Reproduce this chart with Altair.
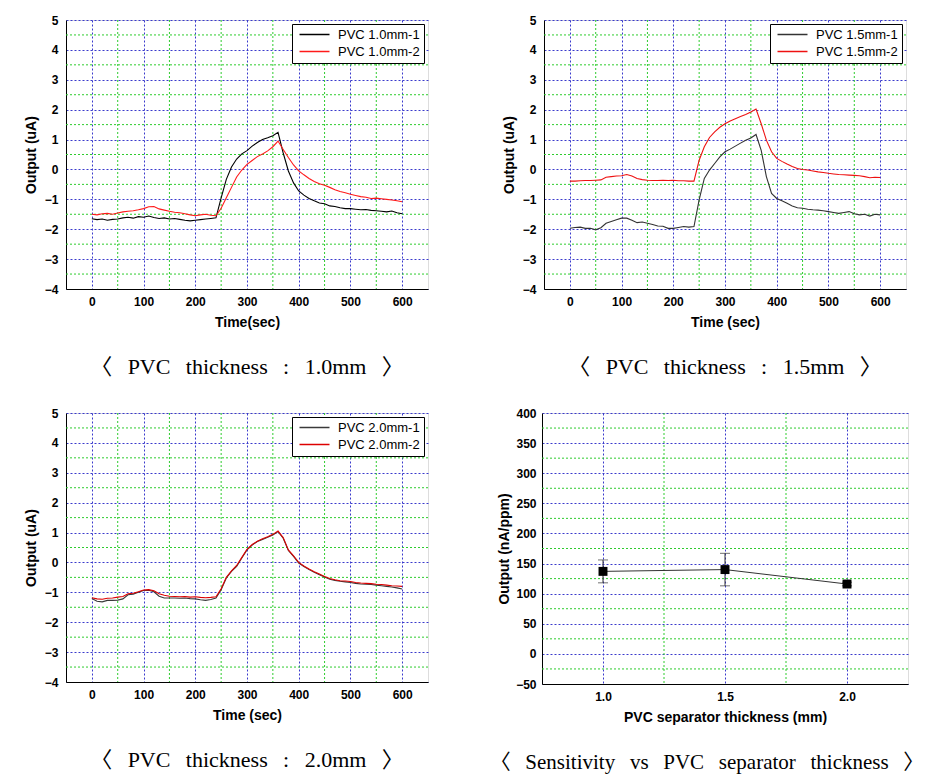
import altair as alt
import pandas as pd

# ---------------- data ----------------
time_sec = list(range(0, 601, 10))

pvc10_1 = [-1.65, -1.68, -1.66, -1.70, -1.67, -1.66, -1.62, -1.60, -1.63, -1.58,
           -1.60, -1.56, -1.61, -1.64, -1.62, -1.66, -1.64, -1.67, -1.70, -1.72,
           -1.70, -1.68, -1.66, -1.64, -1.62, -0.95, -0.33, 0.08, 0.35, 0.52,
           0.63, 0.78, 0.90, 1.00, 1.06, 1.13, 1.24, 0.55, -0.05, -0.45,
           -0.72, -0.86, -0.97, -1.05, -1.12, -1.15, -1.22, -1.24, -1.28, -1.31,
           -1.31, -1.33, -1.35, -1.34, -1.37, -1.38, -1.40, -1.42, -1.39, -1.45, -1.48]
pvc10_2 = [-1.50, -1.52, -1.48, -1.47, -1.50, -1.46, -1.42, -1.40, -1.38, -1.35,
           -1.31, -1.25, -1.24, -1.32, -1.36, -1.40, -1.43, -1.45, -1.48, -1.52,
           -1.55, -1.52, -1.50, -1.53, -1.55, -1.30, -0.95, -0.60, -0.25, -0.02,
           0.17, 0.30, 0.43, 0.52, 0.62, 0.76, 0.95, 0.67, 0.40, 0.15,
           -0.05, -0.18, -0.30, -0.40, -0.48, -0.53, -0.60, -0.68, -0.74, -0.78,
           -0.83, -0.87, -0.91, -0.93, -0.97, -0.96, -0.98, -1.00, -1.02, -1.05, -1.08]
pvc15_1 = [-1.97, -1.94, -1.93, -1.97, -1.97, -2.02, -1.95, -1.80, -1.74, -1.68,
           -1.63, -1.63, -1.70, -1.78, -1.76, -1.80, -1.84, -1.89, -1.90, -1.97,
           -1.97, -1.94, -1.91, -1.93, -1.91, -1.02, -0.30, -0.02, 0.20, 0.42,
           0.59, 0.68, 0.78, 0.88, 0.98, 1.05, 1.17, 0.64, -0.24, -0.80,
           -0.97, -1.05, -1.13, -1.22, -1.28, -1.30, -1.33, -1.35, -1.36, -1.38,
           -1.41, -1.44, -1.47, -1.44, -1.41, -1.48, -1.52, -1.50, -1.56, -1.50, -1.52]
pvc15_2 = [-0.39, -0.39, -0.38, -0.37, -0.37, -0.36, -0.35, -0.26, -0.24, -0.22,
           -0.21, -0.17, -0.22, -0.30, -0.34, -0.36, -0.37, -0.37, -0.36, -0.37,
           -0.36, -0.38, -0.38, -0.39, -0.39, 0.31, 0.76, 1.07, 1.26, 1.41,
           1.53, 1.62, 1.70, 1.77, 1.84, 1.92, 2.02, 1.53, 0.98, 0.59,
           0.37, 0.27, 0.18, 0.10, 0.03, 0.00, -0.02, -0.05, -0.08, -0.10,
           -0.13, -0.15, -0.17, -0.18, -0.19, -0.20, -0.21, -0.24, -0.28, -0.26, -0.27]
pvc20_1 = [-1.21, -1.30, -1.32, -1.27, -1.27, -1.26, -1.22, -1.08, -1.06, -1.00,
           -0.94, -0.93, -0.98, -1.13, -1.19, -1.19, -1.19, -1.20, -1.19, -1.21,
           -1.22, -1.25, -1.27, -1.24, -1.19, -0.91, -0.52, -0.30, -0.13, 0.15,
           0.42, 0.58, 0.70, 0.77, 0.84, 0.92, 1.03, 0.81, 0.40, 0.20,
           -0.02, -0.14, -0.24, -0.33, -0.41, -0.49, -0.56, -0.60, -0.63, -0.65,
           -0.67, -0.70, -0.72, -0.73, -0.74, -0.76, -0.78, -0.80, -0.82, -0.85, -0.89]
pvc20_2 = [-1.18, -1.22, -1.23, -1.20, -1.19, -1.16, -1.14, -1.05, -1.03, -0.98,
           -0.92, -0.91, -0.95, -1.05, -1.10, -1.13, -1.14, -1.15, -1.14, -1.16,
           -1.15, -1.17, -1.18, -1.17, -1.15, -0.88, -0.50, -0.28, -0.10, 0.17,
           0.44, 0.60, 0.71, 0.79, 0.86, 0.94, 1.05, 0.83, 0.42, 0.22,
           0.00, -0.12, -0.22, -0.31, -0.39, -0.47, -0.54, -0.58, -0.61, -0.62,
           -0.64, -0.67, -0.69, -0.70, -0.71, -0.73, -0.74, -0.76, -0.78, -0.79, -0.80]

thickness_mm = [1.0, 1.5, 2.0]
sensitivity = [137, 140, 116]
sensitivity_err = [19, 27, 3]

time_ticks = [0, 100, 200, 300, 400, 500, 600]
time_minor = [50, 150, 250, 350, 450, 550]
out_ticks = [-4, -3, -2, -1, 0, 1, 2, 3, 4, 5]
out_minor = [-3.5, -2.5, -1.5, -0.5, 0.5, 1.5, 2.5, 3.5, 4.5]
thick_ticks = [1.0, 1.5, 2.0]
thick_minor = [1.25, 1.75]
sens_ticks = [-50, 0, 50, 100, 150, 200, 250, 300, 350, 400]
sens_minor = [-25, 25, 75, 125, 175, 225, 275, 325, 375]

# ---------------- styles ----------------
SANS = "Liberation Sans"
SERIF = "Liberation Serif, Noto Sans CJK KR"
MAJOR = "#3a3acc"
MINOR = "#2ecc2e"
W, H = 362, 269
SP = "\u2002\u2009"


def x_axis(title, values, fmt):
    return alt.Axis(title=title, values=values, format=fmt, grid=True,
                    gridColor=MAJOR, gridDash=[2, 2], gridWidth=1, ticks=False,
                    domainColor="black", labelFont=SANS, labelFontSize=12,
                    labelFontWeight="bold", labelColor="black", labelPadding=7,
                    labelOverlap=False,
                    titleFont=SANS, titleFontSize=14, titleFontWeight="bold",
                    titleColor="black", titlePadding=8, labelFlush=False)


def y_axis(title, values, lpad, tpad):
    return alt.Axis(title=title, values=values, format="d", grid=True,
                    gridColor=MAJOR, gridDash=[2, 2], gridWidth=1, ticks=False,
                    domainColor="black", labelFont=SANS, labelFontSize=12,
                    labelFontWeight="bold", labelColor="black", labelPadding=lpad,
                    labelOverlap=False,
                    titleFont=SANS, titleFontSize=14, titleFontWeight="bold",
                    titleColor="black", titlePadding=tpad, labelFlush=False)


def caption(words, dx=0, size=22):
    return alt.TitleParams(SP.join(words), orient="bottom", anchor="middle", font=SERIF,
                           fontSize=size, fontWeight="normal", color="black",
                           offset=28, dx=dx)


def legend():
    return alt.Legend(title=None, orient="top-right", offset=4,
                      fillColor="white", strokeColor="black",
                      padding=4, labelFont=SANS, labelFontSize=13,
                      labelColor="black", symbolType="M-3,0H3",
                      symbolSize=100, symbolStrokeWidth=1.5, symbolOffset=12,
                      rowPadding=3, labelOffset=17)


def time_panel(s1, s2, names, colors, xtitle, cap):
    df = pd.DataFrame({
        "t": time_sec * 2,
        "v": s1 + s2,
        "s": [names[0]] * len(s1) + [names[1]] * len(s2),
    })
    xsc = alt.Scale(domain=[-50, 650], nice=False)
    ysc = alt.Scale(domain=[-4, 5], nice=False)
    xax = x_axis(xtitle, time_ticks, "d")
    yax = y_axis("Output (uA)", out_ticks, 8, 6)
    vx = alt.Chart(pd.DataFrame({"t": time_minor})).mark_rule(
        color=MINOR, strokeDash=[2, 2], strokeWidth=1).encode(
        x=alt.X("t:Q", scale=xsc, axis=xax))
    hy = alt.Chart(pd.DataFrame({"v": out_minor})).mark_rule(
        color=MINOR, strokeDash=[2, 2], strokeWidth=1).encode(
        y=alt.Y("v:Q", scale=ysc, axis=yax))
    lines = alt.Chart(df).mark_line(strokeWidth=1.1).encode(
        x=alt.X("t:Q", scale=xsc, axis=xax),
        y=alt.Y("v:Q", scale=ysc, axis=yax),
        color=alt.Color("s:N", scale=alt.Scale(domain=names, range=colors),
                        legend=legend()),
        detail="s:N",
    )
    return alt.layer(vx, hy, lines).properties(width=W, height=H, title=cap)


p1 = time_panel(pvc10_1, pvc10_2, ["PVC 1.0mm-1", "PVC 1.0mm-2"],
                ["#000000", "#ff1a1a"], "Time(sec)",
                caption(["〈", "PVC", "thickness", ":", "1.0mm", "〉"]))
p2 = time_panel(pvc15_1, pvc15_2, ["PVC 1.5mm-1", "PVC 1.5mm-2"],
                ["#333333", "#ee1111"], "Time (sec)",
                caption(["〈", "PVC", "thickness", ":", "1.5mm", "〉"]))
p3 = time_panel(pvc20_1, pvc20_2, ["PVC 2.0mm-1", "PVC 2.0mm-2"],
                ["#3a3a3a", "#dd0000"], "Time (sec)",
                caption(["〈", "PVC", "thickness", ":", "2.0mm", "〉"]))

# sensitivity panel
sdf = pd.DataFrame({
    "x": thickness_mm,
    "y": sensitivity,
    "lo": [a - b for a, b in zip(sensitivity, sensitivity_err)],
    "hi": [a + b for a, b in zip(sensitivity, sensitivity_err)],
})
sxsc = alt.Scale(domain=[0.75, 2.25], nice=False)
sysc = alt.Scale(domain=[-50, 400], nice=False)
sxax = x_axis("PVC separator thickness (mm)", thick_ticks, ".1f")
syax = y_axis("Output (nA/ppm)", sens_ticks, 6, 4)


def SX(f):
    return alt.X(f + ":Q", scale=sxsc, axis=sxax)


def SY(f):
    return alt.Y(f + ":Q", scale=sysc, axis=syax)


svx = alt.Chart(pd.DataFrame({"x": thick_minor})).mark_rule(
    color=MINOR, strokeDash=[2, 2], strokeWidth=1).encode(x=SX("x"))
shy = alt.Chart(pd.DataFrame({"y": sens_minor})).mark_rule(
    color=MINOR, strokeDash=[2, 2], strokeWidth=1).encode(y=SY("y"))
sbase = alt.Chart(sdf)
sline = sbase.mark_line(color="#333333", strokeWidth=1).encode(x=SX("x"), y=SY("y"))
serr = sbase.mark_rule(color="#333333", strokeWidth=1).encode(
    x=SX("x"), y=SY("lo"), y2="hi:Q")
scap_hi = sbase.mark_tick(color="#333333", thickness=1, size=10, orient="horizontal").encode(
    x=SX("x"), y=SY("hi"))
scap_lo = sbase.mark_tick(color="#333333", thickness=1, size=10, orient="horizontal").encode(
    x=SX("x"), y=SY("lo"))
spts = sbase.mark_square(color="black", size=80, opacity=1).encode(x=SX("x"), y=SY("y"))
p4 = alt.layer(svx, shy, sline, serr, scap_hi, scap_lo, spts).properties(
    width=366, height=271,
    title=caption(["〈", "Sensitivity", "vs", "PVC", "separator", "thickness", "〉"],
                  dx=-18, size=21))

row1 = alt.hconcat(p1, p2, spacing=72).resolve_scale(color="independent")
row2 = alt.hconcat(p3, p4, spacing=60).resolve_scale(color="independent")
chart = alt.vconcat(row1, row2, spacing=27).resolve_scale(color="independent").properties(
    padding={"left": 15, "top": 5, "right": 0, "bottom": 0}
).configure_view(stroke="black", strokeWidth=1.2).configure(background="white")

chart.save("out.html", embed_options={"renderer": "svg", "actions": False})
